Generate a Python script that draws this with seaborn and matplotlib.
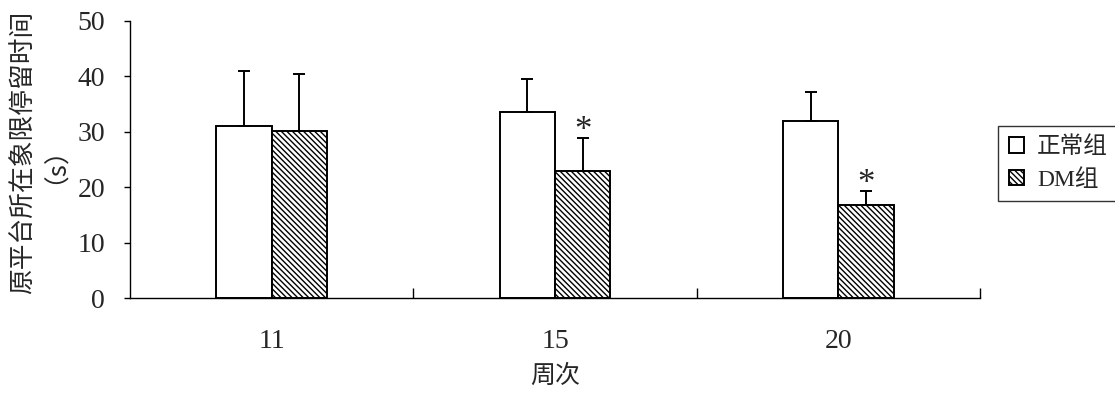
import matplotlib
matplotlib.use("Agg")
import matplotlib.pyplot as plt
from matplotlib.patches import Patch
from matplotlib.ticker import FixedLocator
import seaborn as sns
import pandas as pd
import numpy as np

# ---- data ----
weeks = ["11", "15", "20"]
groups = ["正常组", "DM组"]
normal_mean = [31.0, 33.5, 31.9]
normal_sd = [9.9, 6.0, 5.2]
dm_mean = [30.1, 23.0, 16.8]
dm_sd = [10.3, 5.8, 2.5]
dm_sig = [False, True, True]
y_ticks = [0, 10, 20, 30, 40, 50]
x_label = "周次"
y_label = "原平台所在象限停留时间\n（s）"

sns.set_theme(style="white")
plt.rcParams['font.family'] = ['Liberation Serif', 'Noto Sans CJK SC', 'DejaVu Sans']
plt.rcParams['hatch.linewidth'] = 1.0

df = pd.DataFrame({
    "week": weeks * 2,
    "group": [groups[0]] * 3 + [groups[1]] * 3,
    "value": normal_mean + dm_mean,
})

fig = plt.figure(figsize=(11.15, 3.95), dpi=100)
ax = fig.add_axes([130 / 1115, 1 - 298 / 395, 850 / 1115, 277 / 395])

sns.barplot(data=df, x="week", y="value", hue="group", order=weeks,
            hue_order=groups, palette=["white", "white"], width=0.39,
            errorbar=None, edgecolor="black", linewidth=1.4, ax=ax,
            saturation=1, legend=False)

dense = "\\" * 6
hatches = ["", dense]
means = [normal_mean, dm_mean]
sds = [normal_sd, dm_sd]
bar_containers = list(ax.containers)
for ci, cont in enumerate(bar_containers):
    xs = []
    for p in cont.patches:
        p.set_hatch(hatches[ci])
        p.set_edgecolor("black")
        xs.append(p.get_x() + p.get_width() / 2)
    m = np.array(means[ci])
    s = np.array(sds[ci])
    ax.errorbar(xs, m, yerr=[np.zeros_like(s), s], fmt="none",
                ecolor="black", elinewidth=1.4, capsize=4.5, capthick=1.4,
                zorder=1)
    if ci == 1:
        for x, mm, ss, sig in zip(xs, m, s, dm_sig):
            if sig:
                ax.annotate("*", xy=(x, mm + ss), xytext=(0, -7),
                            textcoords="offset points", ha="center",
                            va="bottom", fontsize=25,
                            family=['Liberation Serif'])

ax.set_xlim(-0.5, 2.5)
ax.set_ylim(0, 50)
ax.set_yticks(y_ticks)
ax.set_yticklabels([str(t) for t in y_ticks], fontsize=20)
ax.set_xticks(range(len(weeks)))
ax.set_xticklabels(weeks, fontsize=20)
ax.xaxis.set_minor_locator(FixedLocator([0.5, 1.5, 2.5]))
ax.tick_params(axis="x", which="major", length=0, pad=22)
ax.tick_params(axis="x", which="minor", direction="in", length=7,
               width=1.0, color="black", bottom=True)
ax.tick_params(axis="y", which="major", direction="out", length=4,
               width=1.0, color="black", pad=14, left=True)

for side in ["top", "right"]:
    ax.spines[side].set_visible(False)
for side in ["left", "bottom"]:
    ax.spines[side].set_color("black")
    ax.spines[side].set_linewidth(1.0)

ax.set_xlabel(x_label, fontsize=18, family=['Noto Sans CJK SC'])
ax.xaxis.set_label_coords(0.5, -0.235)
ax.set_ylabel(y_label, fontsize=18.5, linespacing=0.62,
              family=['Noto Sans CJK SC'])
ax.yaxis.set_label_coords(-0.088, 0.525)

handles = [Patch(facecolor="white", edgecolor="black", linewidth=1.4, hatch=h)
           for h in ["", dense]]
leg = fig.legend(handles, groups, loc="upper left",
                 bbox_to_anchor=(998 / 1115, 1 - 126 / 395),
                 borderaxespad=0, frameon=True, fancybox=False,
                 prop={'family': ['Liberation Serif', 'Noto Sans CJK SC'], 'size': 17},
                 handlelength=0.65, handleheight=0.65, handletextpad=0.55,
                 borderpad=0.45, labelspacing=0.45)
leg.get_frame().set_edgecolor("black")
leg.get_frame().set_linewidth(1.0)

fig.savefig("out.png", dpi=100)
